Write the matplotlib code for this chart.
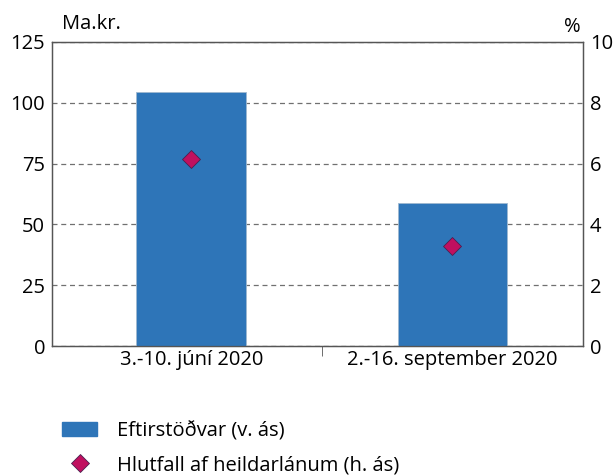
import matplotlib
matplotlib.use("Agg")
import matplotlib.pyplot as plt
from matplotlib.patches import Patch
from matplotlib.lines import Line2D

categories = ["3.-10. júní 2020", "2.-16. september 2020"]
eftirstodvar = [104.5, 58.8]      # Ma.kr. (left axis)
hlutfall = [6.15, 3.29]           # % (right axis)

BLUE = "#2e75b8"
PINK = "#c0105f"
FS = 14.5
plt.rcParams["font.family"] = ["Open Sans", "DejaVu Sans"]

fig = plt.figure(figsize=(6.15, 4.76), dpi=100)
ax = fig.add_axes([0.0846, 0.273, 0.8634, 0.639])
x = list(range(len(categories)))

ax.bar(x, eftirstodvar, width=0.42, color=BLUE, edgecolor="#9fb8d0", linewidth=0.6, zorder=3)
ax.set_xlim(-0.533, 1.50)
ax.set_ylim(0, 125)
ax.set_yticks([0, 25, 50, 75, 100, 125])
ax.yaxis.grid(True, linestyle=(0, (4, 3)), color="#707070", linewidth=0.9, zorder=0)
ax.set_xticks(x)
ax.set_xticklabels(categories)
ax.set_xticks([0.5], minor=True)
ax.tick_params(axis="x", which="major", length=0, pad=3, labelsize=FS)
ax.tick_params(axis="x", which="minor", length=7, direction="out", color="#555555")
ax.tick_params(axis="y", length=0, pad=5, labelsize=FS)
for s in ax.spines.values():
    s.set_color("#555555")
    s.set_linewidth(0.9)

ax2 = ax.twinx()
ax2.plot(x, hlutfall, linestyle="none", marker="D", markersize=9, color=PINK,
         markeredgecolor="#4a2050", markeredgewidth=0.6, zorder=4)
ax2.set_ylim(0, 10)
ax2.set_yticks([0, 2, 4, 6, 8, 10])
ax2.tick_params(axis="y", length=0, pad=5, labelsize=FS)
for s in ax2.spines.values():
    s.set_color("#555555")
    s.set_linewidth(0.9)

fig.text(0.101, 0.928, "Ma.kr.", fontsize=FS, ha="left", va="bottom")
fig.text(0.93, 0.923, "%", fontsize=FS, ha="center", va="bottom")

handles = [
    Patch(facecolor=BLUE, edgecolor=BLUE),
    Line2D([], [], linestyle="none", marker="D", markersize=9, color=PINK,
           markeredgecolor="#4a2050", markeredgewidth=0.6),
]
fig.legend(handles, ["Eftirstöðvar (v. ás)", "Hlutfall af heildarlánum (h. ás)"],
           loc="lower left", bbox_to_anchor=(0.0715, -0.036), frameon=False,
           fontsize=FS, handlelength=1.74, handleheight=0.65, labelspacing=0.69,
           handletextpad=1.0)

fig.savefig("out.png", dpi=100)
